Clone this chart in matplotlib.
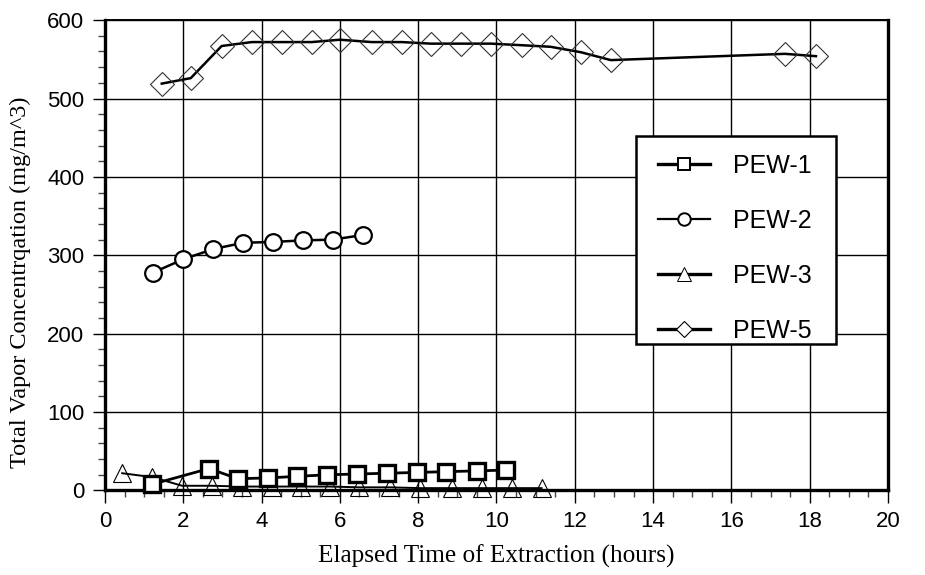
import matplotlib
matplotlib.use("Agg")
import matplotlib.pyplot as plt
from matplotlib.lines import Line2D
from matplotlib.patches import Rectangle
from matplotlib.ticker import MultipleLocator

# Datove rady (cas v hodinach, koncentrace v mg/m^3)
pew1_t = [1.21, 2.66, 3.39, 4.16, 4.90, 5.68, 6.43, 7.20, 7.96, 8.71, 9.49, 10.24]
pew1_c = [8, 28, 15, 16, 18, 20, 21, 22, 23, 24, 25, 26]

pew2_t = [1.23, 2.00, 2.77, 3.53, 4.28, 5.05, 5.82, 6.60]
pew2_c = [278, 295, 308, 316, 317, 319, 320, 326]

pew3_t = [0.44, 1.21, 1.97, 2.73, 3.49, 4.26, 5.01, 5.75, 6.50, 7.28, 8.05, 8.86, 9.62, 10.39, 11.15]
pew3_c = [22, 17, 6, 6, 5, 5, 5, 5, 4, 4, 3, 3, 3, 3, 3]

pew5_t = [1.45, 2.19, 2.98, 3.75, 4.51, 5.28, 6.00, 6.81, 7.58, 8.32, 9.09, 9.86,
          10.64, 11.38, 12.16, 12.92, 17.37, 18.16]
pew5_c = [519, 526, 567, 572, 572, 572, 575, 572, 572, 570, 570, 570,
          568, 566, 559, 549, 557, 554]

labels = ["PEW-1", "PEW-2", "PEW-3", "PEW-5"]

SANS = "Liberation Sans"
SERIF = "Liberation Serif"


def main():
    fig = plt.figure(figsize=(9.25, 5.75), dpi=100)
    ax = fig.add_axes([0.1135, 0.147, 0.8465, 0.818])

    ax.plot(pew1_t, pew1_c, color="black", lw=2.0, marker="s", ms=11,
            mfc="white", mec="black", mew=2.4, clip_on=False, zorder=5)
    ax.plot(pew2_t, pew2_c, color="black", lw=1.8, marker="o", ms=12,
            mfc="white", mec="black", mew=1.6, clip_on=False, zorder=5)
    ax.plot(pew3_t, pew3_c, color="black", lw=1.4, marker="^", ms=13,
            mfc="none", mec="black", mew=0.8, clip_on=False, zorder=4)
    ax.plot(pew5_t, pew5_c, color="black", lw=1.8, marker="D", ms=12.5,
            mfc="none", mec="#333333", mew=0.8, clip_on=False, zorder=5)

    ax.set_xlim(0, 20)
    ax.set_ylim(0, 600)
    ax.xaxis.set_major_locator(MultipleLocator(2))
    ax.xaxis.set_minor_locator(MultipleLocator(0.5))
    ax.yaxis.set_major_locator(MultipleLocator(100))
    ax.yaxis.set_minor_locator(MultipleLocator(20))

    ax.grid(True, which="major", color="black", lw=1.0)
    ax.set_axisbelow(True)

    ax.tick_params(which="major", direction="out", length=9, width=1.0,
                   labelsize=16, pad=6, color="black")
    ax.tick_params(which="minor", direction="out", length=5, width=1.0,
                   color="#444444")
    for lab in ax.get_xticklabels() + ax.get_yticklabels():
        lab.set_fontfamily(SANS)

    for side in ["left", "right", "bottom"]:
        ax.spines[side].set_linewidth(2.4)
    ax.spines["top"].set_linewidth(1.4)

    ax.set_xlabel("Elapsed Time of Extraction (hours)", fontsize=18.2,
                  family=SERIF)
    ax.set_ylabel("Total Vapor Concentrqation (mg/m^3)", fontsize=17.5,
                  family=SERIF)
    ax.xaxis.set_label_coords(0.5, -0.114)
    ax.yaxis.set_label_coords(-0.094, 0.443)

    # Ramecek legendy zvlast, aby sedely odsazeni i rozestupy
    ax.add_patch(Rectangle((0.678, 0.311), 0.256, 0.442, transform=ax.transAxes,
                           facecolor="white", edgecolor="black", lw=1.8,
                           zorder=9))

    # Legenda s mensimi znackami nez v grafu
    handles = [
        Line2D([], [], color="black", lw=2.4, marker="s", ms=8, mfc="white", mec="black", mew=1.4),
        Line2D([], [], color="black", lw=1.6, marker="o", ms=9, mfc="white", mec="black", mew=1.4),
        Line2D([], [], color="black", lw=2.4, marker="^", ms=10, mfc="white", mec="black", mew=0.7),
        Line2D([], [], color="black", lw=2.4, marker="D", ms=8, mfc="white", mec="black", mew=0.8),
    ]
    leg = ax.legend(handles, labels, loc="upper left",
                    bbox_to_anchor=(0.706, 0.716), prop={"family": SANS, "size": 18},
                    frameon=False, handlelength=2.1, handletextpad=0.9,
                    labelspacing=1.24, borderpad=0, borderaxespad=0)
    leg.set_zorder(10)

    fig.savefig("out.png", dpi=100)


if __name__ == "__main__":
    main()
